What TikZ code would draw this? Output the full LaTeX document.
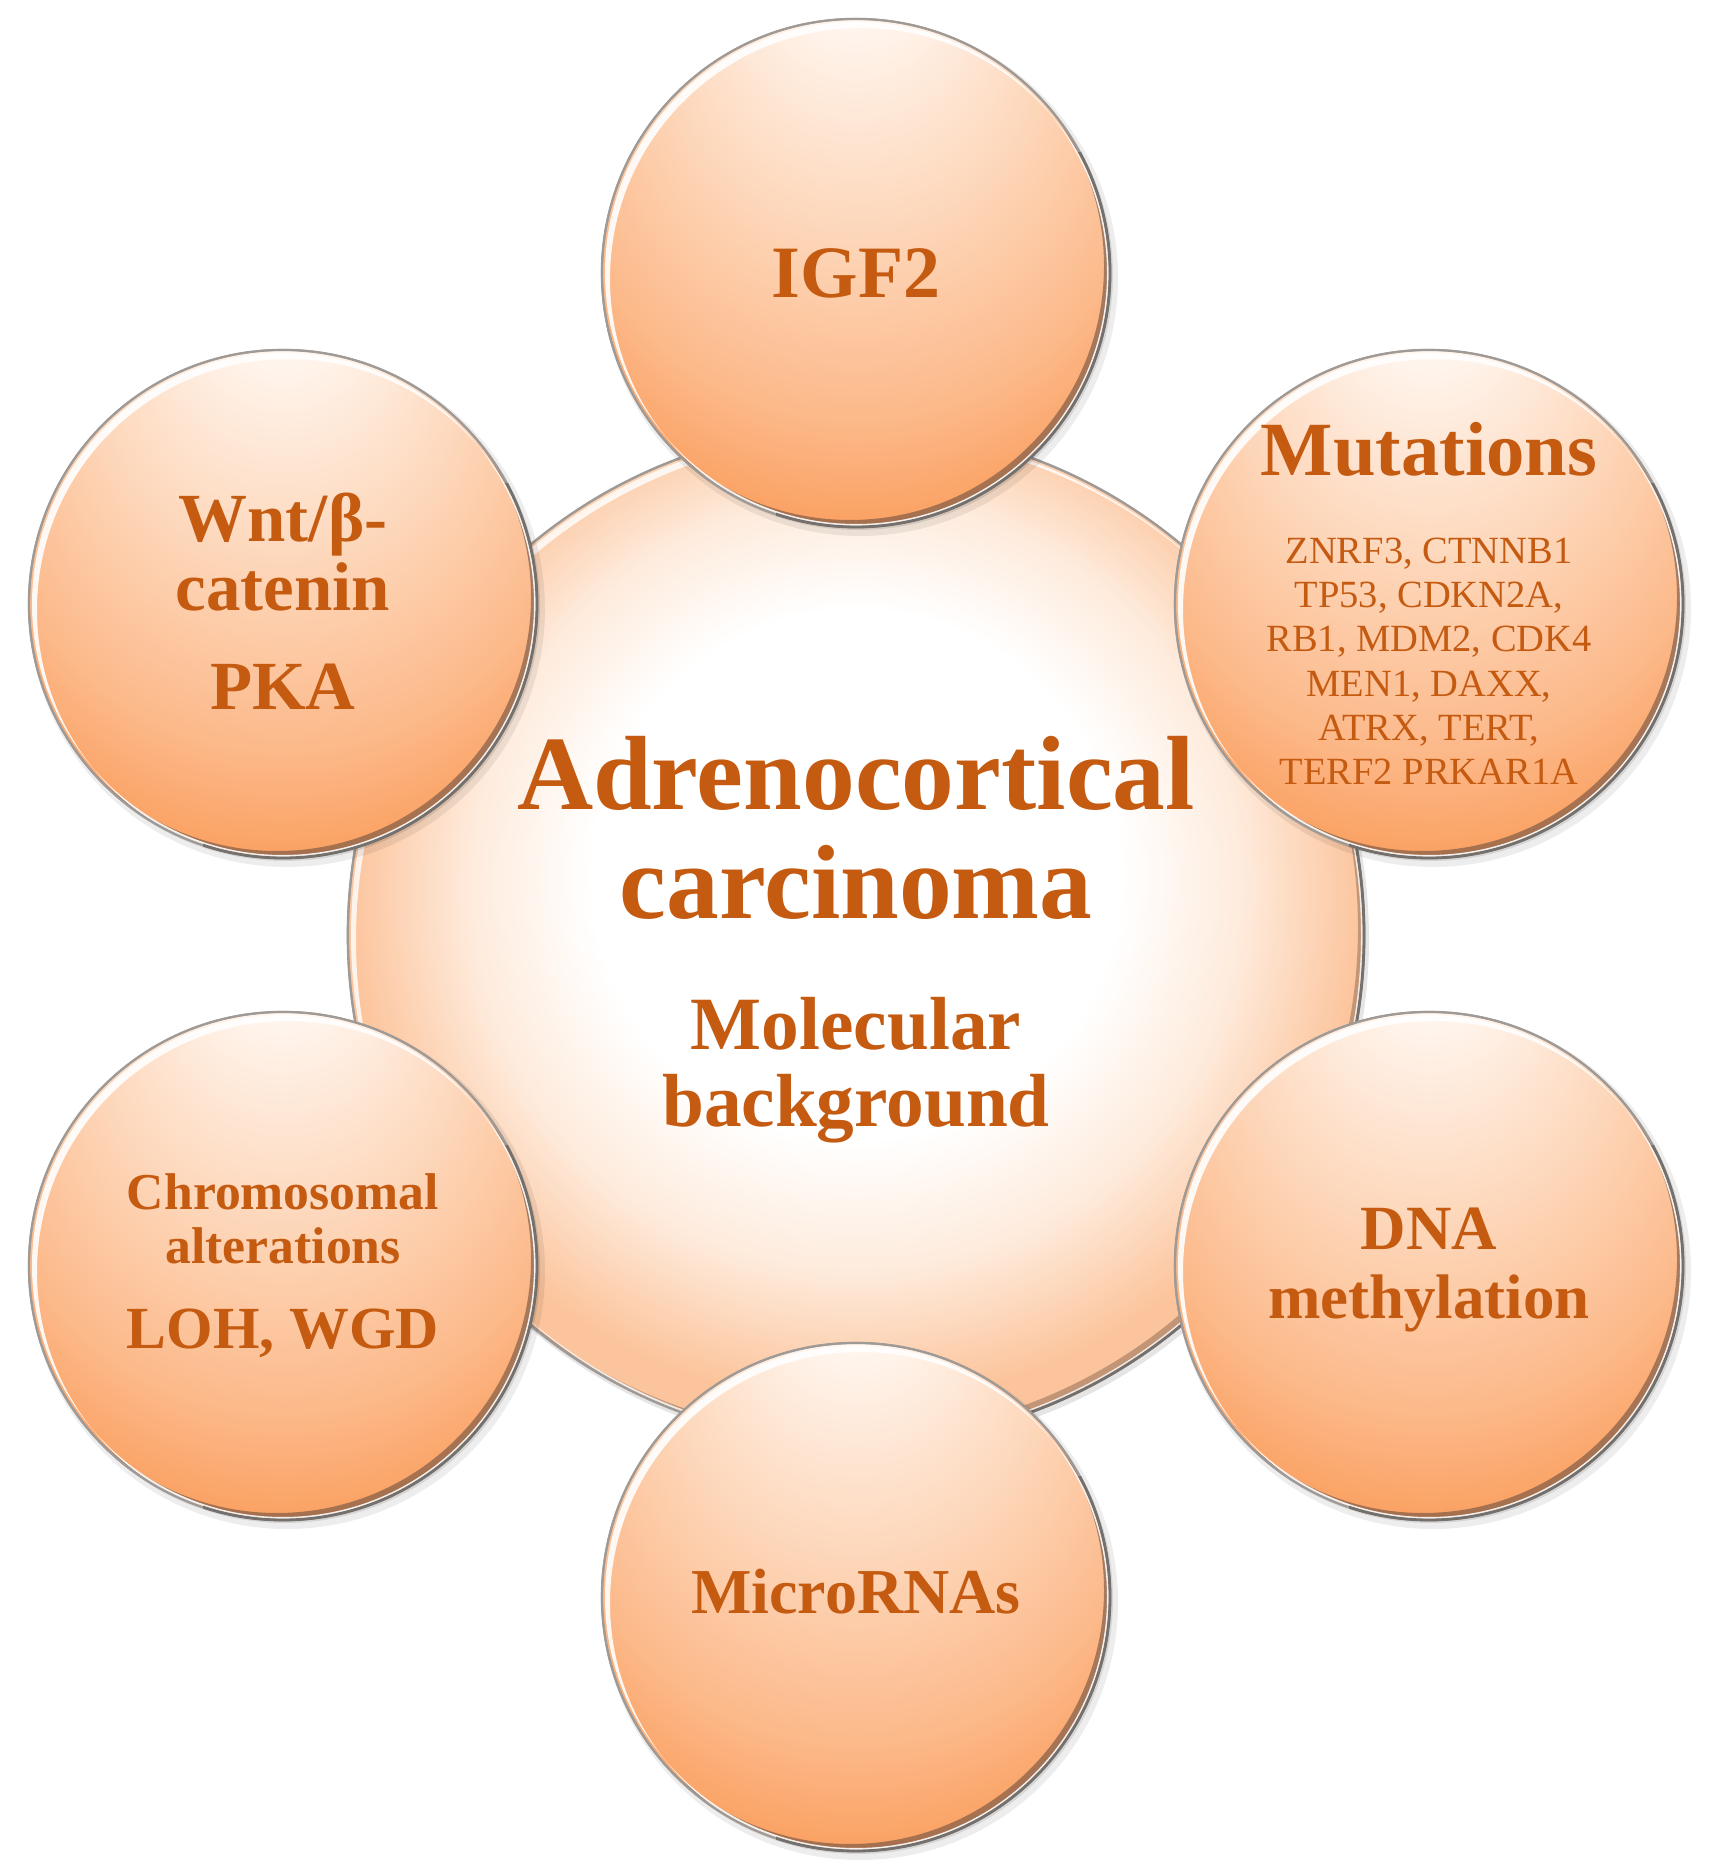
\documentclass[tikz,border=0pt]{standalone}
\usepackage{fontspec}
\setmainfont{Liberation Serif}
\usetikzlibrary{calc}
\definecolor{txt}{HTML}{C55A11}
\definecolor{satA}{HTML}{FFF6EF}
\definecolor{satB}{HTML}{FDD2B2}
\definecolor{satC}{HTML}{FCB98A}
\definecolor{satD}{HTML}{FBA264}
\definecolor{cenE}{HTML}{FEEBDC}
\definecolor{cenF}{HTML}{FCC49C}
\definecolor{rimgray}{HTML}{A09A96}
\definecolor{rimdark}{HTML}{6E5040}
\definecolor{rimshade}{HTML}{75706C}
\pgfdeclareradialshading{satball}{\pgfpoint{0bp}{35bp}}{color(0bp)=(satA); color(6bp)=(satA); color(20bp)=(satB); color(29bp)=(satC); color(35bp)=(satD); color(50bp)=(satD)}
\pgfdeclareradialshading{cenball}{\pgfpoint{0bp}{4bp}}{color(0bp)=(white); color(13bp)=(white); color(19bp)=(cenE); color(25bp)=(cenF); color(50bp)=(cenF)}
\begin{document}
\begin{tikzpicture}[x=0.01cm, y=0.01cm,
  satnode/.style={circle, minimum size=5.08cm, inner sep=0pt, shade, shading=satball, draw=rimgray, line width=0.6pt},
  cennode/.style={circle, minimum size=10.16cm, inner sep=0pt, shade, shading=cenball, draw=rimgray, line width=0.6pt},
  lbl/.style={text=txt, anchor=base, inner sep=0pt},
  big/.style={font=\fontsize{30}{30}\selectfont\bfseries},
  sub/.style={font=\fontsize{21.4}{21.4}\selectfont\bfseries},
  genes/.style={font=\fontsize{10.95}{10.95}\selectfont}]
\useasboundingbox (0,0) rectangle (1719,1866);
% central circle
\fill[black, opacity=0.10] (859,927) circle (510);
\node[cennode] (cen) at (856,931) {};
\begin{scope}
  \clip (cen.center) circle (508);
  \fill[rimdark, opacity=0.4, even odd rule] (cen.center) circle (508) ($(cen.center)+(-6,7)$) circle (508);
  \fill[white, opacity=0.8, even odd rule] (cen.center) circle (505) ($(cen.center)+(5,-5)$) circle (505);
\end{scope}
\draw[rimgray, line width=0.6pt] (cen.center) circle (508);
\begin{scope}
  \clip ($(cen.center)+(-150,-600)$) rectangle ($(cen.center)+(600,200)$);
  \draw[rimshade, line width=0.8pt] (cen.center) circle (508);
\end{scope}
% satellites
\foreach \n/\x/\y in {igf2/856/1593, mut/1429/1262, dna/1429/600, mic/856/269, chr/283/600, wnt/283/1262}{
  \fill[black, opacity=0.07] ($(\x,\y)+(4,-5)$) circle (258);
  \fill[black, opacity=0.10] ($(\x,\y)+(2,-2)$) circle (255);
  \node[satnode] (\n) at (\x,\y) {};
  \begin{scope}
    \clip (\n.center) circle (254);
    \fill[rimdark, opacity=0.6, even odd rule] (\n.center) circle (254) ($(\n.center)+(-6,7)$) circle (254);
    \fill[white, opacity=0.9, even odd rule] (\n.center) circle (251) ($(\n.center)+(5,-6)$) circle (251);
  \end{scope}
  \draw[rimgray, line width=0.6pt] (\n.center) circle (254);
  \begin{scope}
    \clip ($(\n.center)+(-80,-300)$) rectangle ($(\n.center)+(300,120)$);
    \draw[rimshade, line width=0.8pt] (\n.center) circle (254);
  \end{scope}
}
% central text
\node[lbl, big] (t-adr) at (856,1056) {Adrenocortical};
\node[lbl, big] (t-car) at (856,947) {carcinoma};
\node[lbl, sub] (t-mol) at (856,816) {Molecular};
\node[lbl, sub] (t-bg) at (856,739) {background};
% IGF2
\node[lbl, font=\fontsize{21}{21}\selectfont\bfseries] (t-igf) at (856,1568) {IGF2};
% Mutations
\node[lbl, font=\fontsize{21.8}{21.8}\selectfont\bfseries] (t-mut) at (1429,1390) {Mutations};
\node[lbl, genes] (g1) at (1429,1302) {ZNRF3, CTNNB1};
\node[lbl, genes] (g2) at (1429,1258) {TP53, CDKN2A,};
\node[lbl, genes] (g3) at (1429,1214) {RB1, MDM2, CDK4};
\node[lbl, genes] (g4) at (1429,1169) {MEN1, DAXX,};
\node[lbl, genes] (g5) at (1429,1125) {ATRX,\ TERT,};
\node[lbl, genes] (g6) at (1429,1081) {TERF2 PRKAR1A};
% Wnt
\node[lbl, font=\fontsize{19.6}{19.6}\selectfont\bfseries] (t-wnt) at (283,1324) {Wnt/β-};
\node[lbl, font=\fontsize{19.6}{19.6}\selectfont\bfseries] (t-cat) at (283,1255) {catenin};
\node[lbl, font=\fontsize{19.6}{19.6}\selectfont\bfseries] (t-pka) at (283,1156) {PKA};
% Chromosomal
\node[lbl, font=\fontsize{14.7}{14.7}\selectfont\bfseries] (t-chr) at (283,656) {Chromosomal};
\node[lbl, font=\fontsize{14.7}{14.7}\selectfont\bfseries] (t-alt) at (283,602) {alterations};
\node[lbl, font=\fontsize{17}{17}\selectfont\bfseries] (t-loh) at (283,517) {LOH, WGD};
% DNA
\node[lbl, font=\fontsize{17.9}{17.9}\selectfont\bfseries] (t-dna) at (1429,616) {DNA};
\node[lbl, font=\fontsize{17.9}{17.9}\selectfont\bfseries] (t-met) at (1429,547) {methylation};
% MicroRNAs
\node[lbl, font=\fontsize{18.2}{18.2}\selectfont\bfseries] (t-mic) at (856,252) {MicroRNAs};
\end{tikzpicture}
\end{document}
